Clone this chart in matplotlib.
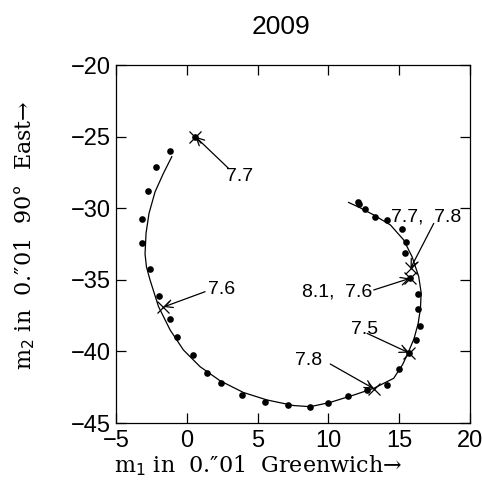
import matplotlib
matplotlib.use("Agg")
import matplotlib.pyplot as plt

# observed pole positions (dots)
dot_x = [0.6, -1.18, -2.19, -2.73, -3.14, -3.18, -2.62, -1.95, -1.18, -0.72, 0.41,
         1.41, 2.44, 3.93, 5.52, 7.14, 8.73, 9.97, 11.35, 12.7, 14.12, 14.98,
         15.67, 16.22, 16.5, 16.3, 16.35, 15.75, 15.44, 15.49, 15.23, 14.12,
         13.32, 12.56, 12.18, 12.12]
dot_y = [-25.0, -25.97, -27.1, -28.77, -30.78, -32.41, -34.22, -36.11, -37.76, -39.02, -40.27,
         -41.49, -42.23, -43.01, -43.54, -43.76, -43.9, -43.58, -43.08, -42.72, -42.37, -41.2,
         -40.09, -39.2, -38.25, -37.06, -35.97, -34.9, -33.12, -32.33, -31.45, -30.82,
         -30.59, -30.08, -29.72, -29.55]

# smoothed path
curve_x = [-1.06, -1.65, -2.24, -2.67, -2.88, -2.95, -2.85, -2.6, -2.0, -1.18, -0.24,
           0.94, 2.35, 4.0, 5.66, 7.54, 8.72, 10.13, 11.78, 13.2, 14.61, 15.25,
           15.67, 16.05, 16.34, 16.5, 16.55, 16.38, 15.91, 15.32, 14.38, 13.2,
           12.2, 11.43]
curve_y = [-26.4, -27.56, -28.85, -30.36, -31.75, -33.2, -34.1, -35.0, -36.87, -38.5, -39.9,
           -41.07, -42.05, -42.87, -43.39, -43.78, -43.86, -43.56, -43.05, -42.58, -41.88, -40.9,
           -40.0, -39.1, -38.04, -37.0, -35.9, -34.78, -33.39, -32.22, -31.17, -30.47,
           -29.95, -29.6]

# marked epochs (crosses) and their labels
mark_x = [0.6, -1.65, 13.2, 15.67, 15.75, 15.8]
mark_y = [-25.0, -36.9, -42.6, -40.09, -34.9, -34.2]
labels = ["7.7", "7.6", "7.8", "7.5", "8.1,  7.6", "7.7,  7.8"]
label_x = [3.7, 2.43, 8.6, 12.56, 10.6, 16.9]
label_y = [-27.8, -35.7, -40.66, -38.5, -35.83, -30.6]
arrow_x = [2.94, 1.29, 10.13, 12.73, 13.2, 17.44]
arrow_y = [-27.21, -35.83, -40.88, -38.74, -35.71, -31.06]

plt.rcParams['font.family'] = ['Liberation Sans', 'DejaVu Sans']

fig = plt.figure(figsize=(4.82, 4.82), dpi=100)
ax = fig.add_axes([0.2407, 0.1224, 0.7344, 0.7427])

ax.plot(curve_x, curve_y, color='black', lw=0.9)
ax.plot(dot_x, dot_y, 'o', color='black', ms=4.8, mec='none')
ax.plot(mark_x, mark_y, 'x', color='black', ms=8, mew=0.9)

for i in range(len(labels)):
    ax.annotate('', xy=(mark_x[i], mark_y[i]), xytext=(arrow_x[i], arrow_y[i]),
                arrowprops=dict(arrowstyle='->', color='black', lw=0.9,
                                shrinkA=0, shrinkB=0, mutation_scale=14))
    ax.text(label_x[i], label_y[i], labels[i], ha='center', va='center', fontsize=14)

ax.set_xlim(-5, 20)
ax.set_ylim(-45, -20)
ax.set_xticks([-5, 0, 5, 10, 15, 20])
ax.set_yticks([-45, -40, -35, -30, -25, -20])
ax.tick_params(direction='in', top=True, right=True, length=7, width=0.9,
               labelsize=17, pad=3)
ax.tick_params(axis='x', pad=5)
ax.tick_params(axis='y', pad=4)
for s in ax.spines.values():
    s.set_linewidth(0.9)

fig.text(281 / 482, 1 - 27 / 482, "2009", ha='center', va='center', fontsize=19)
fig.text(258 / 482, 1 - 466 / 482, "m$_1$ in  0.″01  Greenwich→", ha='center', va='center',
         fontsize=16, family=['DejaVu Serif'])
fig.text(25 / 482, 1 - 235 / 482, "m$_2$ in  0.″01  90°  East→", ha='center', va='center',
         fontsize=16, family=['DejaVu Serif'], rotation=90)

fig.savefig("out.png", dpi=100)
